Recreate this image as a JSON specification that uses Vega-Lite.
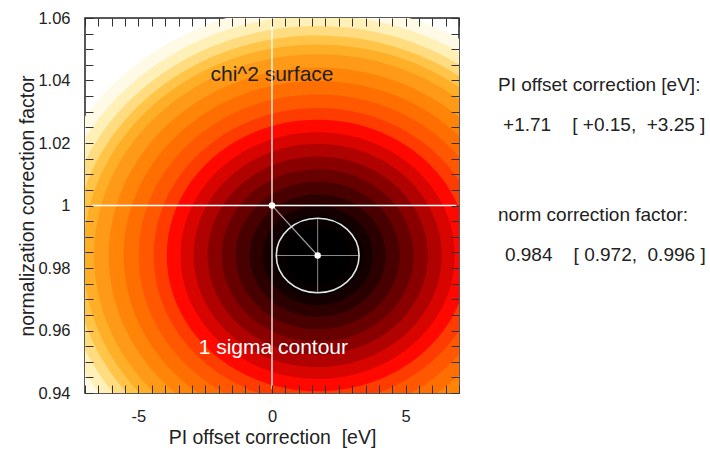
{
  "$schema": "https://vega.github.io/schema/vega-lite/v6.json",
  "width": 374,
  "height": 375,
  "autosize": {"type": "none"},
  "padding": {"left": 85, "top": 18, "right": 251, "bottom": 56},
  "background": "white",
  "config": {
    "view": {"stroke": "#222", "strokeWidth": 1.5},
    "font": "Liberation Sans",
    "axis": {
      "labelFont": "Liberation Sans",
      "titleFont": "Liberation Sans",
      "labelFontSize": 16.5,
      "titleFontSize": 19.5,
      "titleFontWeight": "normal",
      "labelColor": "#222",
      "titleColor": "#222",
      "tickColor": "#333",
      "tickWidth": 1,
      "grid": false,
      "domain": false,
      "labelOverlap": false,
      "zindex": 1
    }
  },
  "resolve": {"axis": {"x": "independent", "y": "independent"}},
  "datasets": {
    "bands": [
      {"x": 1.71, "y": 0.984, "rx": 10.45, "band": 1},
      {"x": 1.71, "y": 0.984, "rx": 9.98, "band": 2},
      {"x": 1.71, "y": 0.984, "rx": 9.55, "band": 3},
      {"x": 1.71, "y": 0.984, "rx": 9.15, "band": 4},
      {"x": 1.71, "y": 0.984, "rx": 8.78, "band": 5},
      {"x": 1.71, "y": 0.984, "rx": 8.37, "band": 6},
      {"x": 1.71, "y": 0.984, "rx": 7.82, "band": 7},
      {"x": 1.71, "y": 0.984, "rx": 7.26, "band": 8},
      {"x": 1.71, "y": 0.984, "rx": 6.70, "band": 9},
      {"x": 1.71, "y": 0.984, "rx": 6.14, "band": 10},
      {"x": 1.71, "y": 0.984, "rx": 5.65, "band": 11},
      {"x": 1.71, "y": 0.984, "rx": 5.13, "band": 12},
      {"x": 1.71, "y": 0.984, "rx": 4.64, "band": 13},
      {"x": 1.71, "y": 0.984, "rx": 4.12, "band": 14},
      {"x": 1.71, "y": 0.984, "rx": 3.59, "band": 15},
      {"x": 1.71, "y": 0.984, "rx": 3.07, "band": 16},
      {"x": 1.71, "y": 0.984, "rx": 2.55, "band": 17},
      {"x": 1.71, "y": 0.984, "rx": 2.06, "band": 18},
      {"x": 1.71, "y": 0.984, "rx": 1.68, "band": 19},
      {"x": 1.71, "y": 0.984, "rx": 1.20, "band": 20}
    ],
    "crosshair": [
      {"x": 0, "x2": 0, "y": 0.9413, "y2": 1.0584},
      {"x": -6.75, "x2": 6.9, "y": 1.0, "y2": 1.0}
    ],
    "offset": [
      {"x": 0, "x2": 1.71, "y": 1.0, "y2": 0.984}
    ],
    "errors": [
      {"x": 0.15, "x2": 3.25, "y": 0.984, "y2": 0.984},
      {"x": 1.71, "x2": 1.71, "y": 0.972, "y2": 0.996}
    ],
    "sigma": [
      {"x": 1.71, "y": 0.984, "rx": 1.55}
    ],
    "dots": [
      {"x": 0, "y": 1.0},
      {"x": 1.71, "y": 0.984}
    ],
    "darknote": [
      {"x": 0.0, "y": 1.0398, "label": "chi^2 surface"}
    ],
    "whitenote": [
      {"x": 0.05, "y": 0.9525, "label": "1 sigma contour"}
    ],
    "results": [
      {"x": 8.46, "y": 1.0366, "label": "PI offset correction [eV]:"},
      {"x": 8.65, "y": 1.0238, "label": "+1.71\u00a0\u00a0\u00a0\u00a0[\u00a0+0.15,\u00a0\u00a0+3.25\u00a0]"},
      {"x": 8.46, "y": 0.9950, "label": "norm correction factor:"},
      {"x": 8.72, "y": 0.9822, "label": "0.984\u00a0\u00a0\u00a0\u00a0[\u00a00.972,\u00a0\u00a00.996\u00a0]"}
    ]
  },
  "layer": [
    {
      "data": {"name": "bands"},
      "mark": {
        "type": "point",
        "shape": "M 1 0 C 1 0.4971 0.5523 0.9 0 0.9 C -0.5523 0.9 -1 0.4971 -1 0 C -1 -0.4971 -0.5523 -0.9 0 -0.9 C 0.5523 -0.9 1 -0.4971 1 0 Z",
        "filled": true,
        "opacity": 1,
        "strokeWidth": 0,
        "clip": true
      },
      "encoding": {
        "x": {
          "field": "x", "type": "quantitative",
          "scale": {"domain": [-7, 7], "nice": false, "zero": false},
          "axis": {
            "orient": "bottom",
            "zindex": 2,
            "values": [-7,-6.5,-6,-5.5,-5,-4.5,-4,-3.5,-3,-2.5,-2,-1.5,-1,-0.5,0,0.5,1,1.5,2,2.5,3,3.5,4,4.5,5,5.5,6,6.5,7],
            "tickSize": -8,
            "labelPadding": 23,
            "labelFlush": false,
            "labelExpr": "abs(datum.value/5 - round(datum.value/5)) < 0.001 ? (datum.value < 0 ? '-' + abs(datum.value) : '' + datum.value) : ''",
            "title": "PI offset correction\u00a0 [eV]",
            "titlePadding": 4
          }
        },
        "y": {
          "field": "y", "type": "quantitative",
          "scale": {"domain": [0.94, 1.06], "nice": false, "zero": false},
          "axis": {
            "orient": "left",
            "zindex": 2,
            "values": [0.94,0.945,0.95,0.955,0.96,0.965,0.97,0.975,0.98,0.985,0.99,0.995,1.0,1.005,1.01,1.015,1.02,1.025,1.03,1.035,1.04,1.045,1.05,1.055,1.06],
            "tickSize": -8,
            "labelPadding": 23,
            "labelExpr": "abs(datum.value*50 - round(datum.value*50)) < 0.001 ? format(datum.value, '~g') : ''",
            "title": "normalization correction factor",
            "titleX": -52,
            "titleY": 187.5,
            "titleAngle": -90,
            "titleAlign": "center",
            "titleBaseline": "alphabetic"
          }
        },
        "size": {
          "field": "rx", "type": "quantitative",
          "scale": {"type": "pow", "exponent": 2, "domain": [0, 12], "range": [0, 411060], "zero": true},
          "legend": null
        },
        "color": {
          "field": "band", "type": "nominal",
          "scale": {
            "domain": [1,2,3,4,5,6,7,8,9,10,11,12,13,14,15,16,17,18,19,20],
            "range": ["#fffae6","#fff0b8","#ffdc80","#ffc448","#ffae28","#ff9a18","#ff8408","#ff6e00","#ff5800","#ff3c00","#ff0800","#d80400","#b00200","#8a0000","#680000","#480000","#2c0000","#140000","#060000","#000000"]
          },
          "legend": null
        },
        "order": {"field": "rx", "type": "quantitative", "sort": "descending"}
      }
    },
    {
      "data": {"name": "darknote"},
      "mark": {"type": "text", "fontSize": 21, "color": "#1e1e1e", "align": "center", "baseline": "alphabetic", "font": "Liberation Sans"},
      "encoding": {
        "x": {"field": "x", "type": "quantitative", "axis": null},
        "y": {"field": "y", "type": "quantitative", "axis": null},
        "text": {"field": "label"}
      }
    },
    {
      "data": {"name": "crosshair"},
      "mark": {"type": "rule", "color": "#ffffff", "strokeWidth": 1.3},
      "encoding": {
        "x": {"field": "x", "type": "quantitative", "axis": null},
        "x2": {"field": "x2"},
        "y": {"field": "y", "type": "quantitative", "axis": null},
        "y2": {"field": "y2"}
      }
    },
    {
      "data": {"name": "offset"},
      "mark": {"type": "rule", "color": "#9a9a9a", "strokeWidth": 1.2},
      "encoding": {
        "x": {"field": "x", "type": "quantitative", "axis": null},
        "x2": {"field": "x2"},
        "y": {"field": "y", "type": "quantitative", "axis": null},
        "y2": {"field": "y2"}
      }
    },
    {
      "data": {"name": "errors"},
      "mark": {"type": "rule", "color": "#8a8a8a", "strokeWidth": 1},
      "encoding": {
        "x": {"field": "x", "type": "quantitative", "axis": null},
        "x2": {"field": "x2"},
        "y": {"field": "y", "type": "quantitative", "axis": null},
        "y2": {"field": "y2"}
      }
    },
    {
      "data": {"name": "sigma"},
      "mark": {
        "type": "point",
        "shape": "M 1 0 C 1 0.4971 0.5523 0.9 0 0.9 C -0.5523 0.9 -1 0.4971 -1 0 C -1 -0.4971 -0.5523 -0.9 0 -0.9 C 0.5523 -0.9 1 -0.4971 1 0 Z",
        "filled": false,
        "opacity": 1,
        "stroke": "#e4e4e4",
        "strokeWidth": 1.6
      },
      "encoding": {
        "x": {
          "field": "x", "type": "quantitative",
          "axis": {
            "orient": "top",
            "zindex": 2,
            "values": [-7,-6.5,-6,-5.5,-5,-4.5,-4,-3.5,-3,-2.5,-2,-1.5,-1,-0.5,0,0.5,1,1.5,2,2.5,3,3.5,4,4.5,5,5.5,6,6.5,7],
            "tickSize": -8,
            "labels": false,
            "title": null
          }
        },
        "y": {
          "field": "y", "type": "quantitative",
          "axis": {
            "orient": "right",
            "zindex": 2,
            "values": [0.94,0.945,0.95,0.955,0.96,0.965,0.97,0.975,0.98,0.985,0.99,0.995,1.0,1.005,1.01,1.015,1.02,1.025,1.03,1.035,1.04,1.045,1.05,1.055,1.06],
            "tickSize": -8,
            "labels": false,
            "title": null
          }
        },
        "size": {
          "field": "rx", "type": "quantitative",
          "scale": {"type": "pow", "exponent": 2, "domain": [0, 12], "range": [0, 411060], "zero": true},
          "legend": null
        }
      }
    },
    {
      "data": {"name": "dots"},
      "mark": {"type": "point", "shape": "circle", "filled": true, "opacity": 1, "color": "#ffffff", "size": 42, "strokeWidth": 0},
      "encoding": {
        "x": {"field": "x", "type": "quantitative", "axis": null},
        "y": {"field": "y", "type": "quantitative", "axis": null}
      }
    },
    {
      "data": {"name": "whitenote"},
      "mark": {"type": "text", "fontSize": 21, "color": "#ffffff", "align": "center", "baseline": "alphabetic", "font": "Liberation Sans"},
      "encoding": {
        "x": {"field": "x", "type": "quantitative", "axis": null},
        "y": {"field": "y", "type": "quantitative", "axis": null},
        "text": {"field": "label"}
      }
    },
    {
      "data": {"name": "results"},
      "mark": {"type": "text", "fontSize": 19, "color": "#222222", "align": "left", "baseline": "alphabetic", "font": "Liberation Sans"},
      "encoding": {
        "x": {"field": "x", "type": "quantitative", "axis": null},
        "y": {"field": "y", "type": "quantitative", "axis": null},
        "text": {"field": "label"}
      }
    }
  ]
}
